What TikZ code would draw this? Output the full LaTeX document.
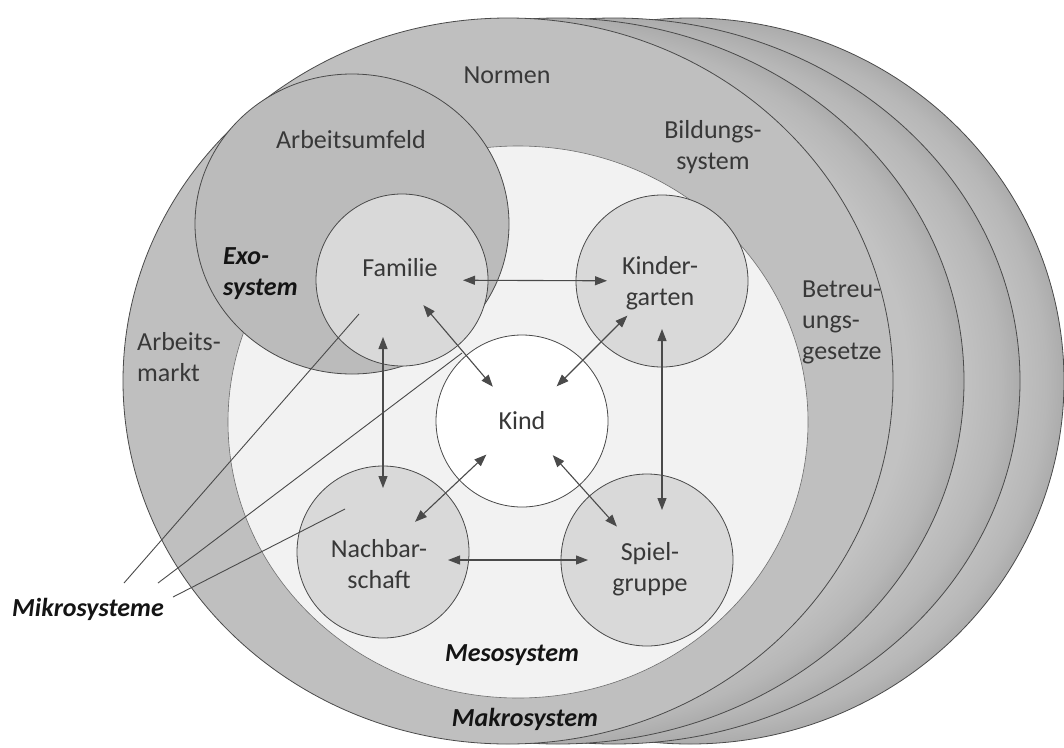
\documentclass[tikz,border=0pt]{standalone}
\usepackage{fontspec}
\setmainfont{Carlito}
\usetikzlibrary{arrows.meta}
\definecolor{lt}{HTML}{C2C2C2}
\definecolor{md}{HTML}{B7B7B7}
\definecolor{dk}{HTML}{ACACAC}
\definecolor{frontc}{HTML}{BFBFBF}
\definecolor{exoc}{HTML}{BBBBBB}
\definecolor{mesoc}{HTML}{F2F2F2}
\definecolor{microc}{HTML}{D9D9D9}
\definecolor{linec}{HTML}{4A4A4A}
\definecolor{txt}{HTML}{383838}
\pgfdeclareradialshading{ringshade}{\pgfpoint{0bp}{0bp}}{color(0bp)=(lt); color(21.5bp)=(lt); color(23.8bp)=(md); color(25bp)=(dk); color(50bp)=(dk)}
\begin{document}
\begin{tikzpicture}[x=1pt,y=-1pt,
  rim/.style={draw=linec, line width=0.8pt},
  micro/.style={circle, draw=linec, line width=0.8pt, fill=microc, minimum size=172pt, inner sep=0pt},
  lbl/.style={font=\fontsize{26}{31}\selectfont, text=txt, inner sep=0pt, align=center},
  blbl/.style={font=\fontsize{26}{31}\selectfont\bfseries\itshape, text=black!92, inner sep=0pt, align=left},
  dbl/.style={{Triangle[length=12pt,width=9pt]}-{Triangle[length=12pt,width=9pt]}, line width=1.1pt, draw=linec},
  leader/.style={line width=0.9pt, draw=linec}]
\useasboundingbox (0,0) rectangle (1064,747);
\fill[white] (0,0) rectangle (1064,747);
% back layers
\shadedraw[shading=ringshade, rim] (690,381) ellipse [x radius=374pt, y radius=363pt];
\shadedraw[shading=ringshade, rim] (614,381) ellipse [x radius=406pt, y radius=363pt];
\shadedraw[shading=ringshade, rim] (558,381) ellipse [x radius=406pt, y radius=363pt];
% macro
\filldraw[fill=frontc, rim] (508,381) ellipse [x radius=385pt, y radius=363pt];
% meso
\filldraw[fill=mesoc, draw=linec!80, line width=0.6pt] (518,422) ellipse [x radius=290pt, y radius=276pt];
% exo
\filldraw[fill=exoc, rim] (352,224) ellipse [x radius=157pt, y radius=150pt];
% micro systems
\node[micro] (fam) at (402,280) {};
\node[micro] (kg) at (662,281) {};
\node[micro] (nb) at (383,552) {};
\node[micro] (sp) at (647,560) {};
\node[micro, fill=white, font=\fontsize{26}{31}\selectfont, text=txt] (kind) at (522,421) {Kind};
% arrows
\draw[dbl, shorten <=61pt, shorten >=55pt] (fam.center) -- (kg.center);
\draw[dbl, shorten <=33pt, shorten >=45pt] (fam.center) -- (kind.center);
\draw[dbl, shorten <=57pt, shorten >=64pt] (nb |- fam) -- (nb.center);
\draw[dbl, shorten <=49pt, shorten >=49pt] (kg.center) -- (kind.center);
\draw[dbl, shorten <=48pt, shorten >=50pt] (kg.center) -- (kg |- sp);
\draw[dbl, shorten <=49pt, shorten >=44pt] (kind.center) -- (nb.center);
\draw[dbl, shorten <=46pt, shorten >=45pt] (kind.center) -- (sp.center);
\draw[dbl, shorten <=65pt, shorten >=59pt] (nb |- sp) -- (sp.center);
% labels
\node[lbl] (normen) at (507,75) {Normen};
\node[lbl] (arbu) at (351,140) {Arbeitsumfeld};
\node[lbl] (bild) at (713,147) {Bildungs-\\system};
\node[blbl, anchor=west] (exo) at (223,274) {Exo-\\system};
\node[lbl] (famt) at (400,268) {Familie};
\node[lbl] (kgt) at (660,283) {Kinder-\\garten};
\node[lbl, anchor=west, align=left] (arbm) at (137,357) {Arbeits-\\markt};
\node[lbl, anchor=west, align=left] (betr) at (802,322) {Betreu-\\ungs-\\gesetze};
\node[lbl] (nbt) at (379,564) {Nachbar-\\schaft};
\node[lbl] (spt) at (650,569) {Spiel-\\gruppe};
\node[blbl] (mikro) at (88,609) {Mikrosysteme};
\node[blbl] (mesot) at (512,655) {Mesosystem};
\node[blbl] (makrot) at (525,719) {Makrosystem};
% leader lines
\coordinate (m1s) at (124,583);
\coordinate (m1e) at (359,314);
\coordinate (m2s) at (158,583);
\coordinate (m2e) at (462,353);
\coordinate (m3s) at (173,597);
\coordinate (m3e) at (345,509);
\draw[leader] (m1s) -- (m1e);
\draw[leader] (m2s) -- (m2e);
\draw[leader] (m3s) -- (m3e);
\end{tikzpicture}
\end{document}
